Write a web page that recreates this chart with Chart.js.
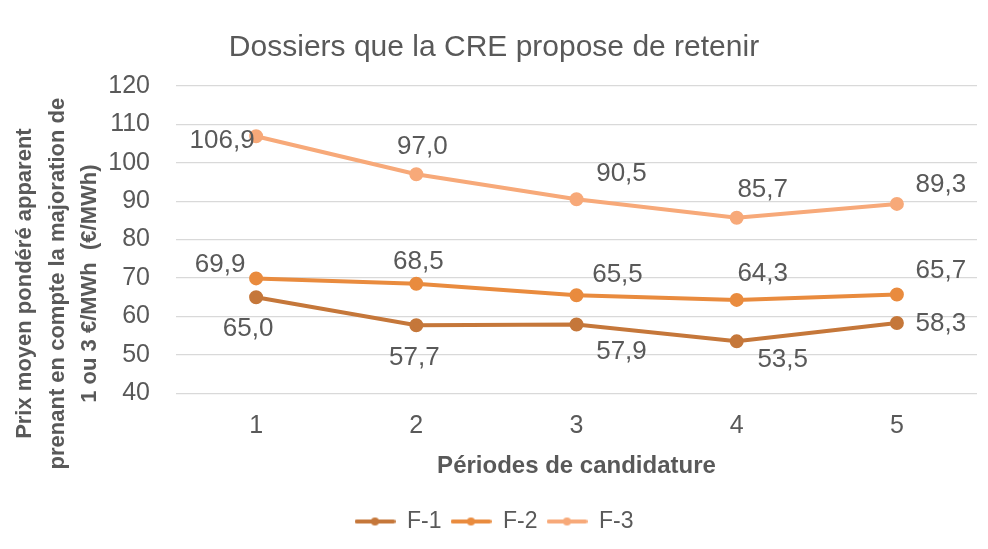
<!DOCTYPE html>
<html>
<head>
<meta charset="utf-8">
<script src="https://cdn.jsdelivr.net/npm/chart.js@4/dist/chart.umd.min.js"></script>
<style>
  html, body { margin: 0; padding: 0; background: #ffffff; }
  #wrap { width: 988px; height: 549px; position: relative; }
</style>
</head>
<body>
<div id="wrap"><canvas id="chart"></canvas></div>
<script>
// Data
const periods = ['1', '2', '3', '4', '5'];
const seriesNames = ['F-1', 'F-2', 'F-3'];
const f1Values = [65.0, 57.7, 57.9, 53.5, 58.3];
const f2Values = [69.9, 68.5, 65.5, 64.3, 65.7];
const f3Values = [106.9, 97.0, 90.5, 85.7, 89.3];
const yTicks = [40, 50, 60, 70, 80, 90, 100, 110, 120];
const yTitleLines = ['Prix moyen pondéré apparent', 'prenant en compte la majoration de', '1 ou 3 €/MWh  (€/MWh)'];

const textColor = '#595959';
const fontFamily = '"Liberation Sans", Arial, sans-serif';
const colors = ['#C5773A', '#E98B3E', '#F7A979'];

// where each data label sits relative to its point (dx, dy in px)
const labelOffsets = [
    [[-8, 32], [-2, 33], [45, 27], [46, 18], [44, 1]],
    [[-36, -14], [2, -22], [41, -20], [26, -26], [44, -24]],
    [[-34, 5], [6, -27], [45, -25], [26, -28], [44, -19]]
];

const fmt = v => v.toFixed(1).replace('.', ',');

// legend marker: short line with a dot in the middle
const legendMarker = color => {
    const c = document.createElement('canvas');
    c.width = 41;
    c.height = 12;
    const g = c.getContext('2d');
    g.strokeStyle = color;
    g.fillStyle = color;
    g.lineWidth = 4;
    g.lineCap = 'round';
    g.beginPath();
    g.moveTo(2, 6);
    g.lineTo(39, 6);
    g.stroke();
    g.beginPath();
    g.arc(20.5, 6, 4, 0, Math.PI * 2);
    g.fill();
    return c;
};

const dataLabels = {
    id: 'dataLabels',
    afterDatasetsDraw(chart) {
        const ctx = chart.ctx;
        ctx.save();
        ctx.font = '26px ' + fontFamily;
        ctx.fillStyle = textColor;
        ctx.textAlign = 'center';
        ctx.textBaseline = 'middle';
        chart.data.datasets.forEach((ds, di) => {
            chart.getDatasetMeta(di).data.forEach((pt, i) => {
                const off = labelOffsets[di][i];
                ctx.fillText(fmt(ds.data[i]), pt.x + off[0], pt.y + off[1]);
            });
        });
        ctx.restore();
    }
};

// three-line rotated y axis title, drawn by hand so it can sit lower than the axis middle
const yTitle = {
    id: 'yTitle',
    afterDraw(chart) {
        const ctx = chart.ctx;
        const cy = (chart.chartArea.top + chart.chartArea.bottom) / 2 + 44;
        const xs = [25, 58, 90];
        ctx.save();
        ctx.font = 'bold 22px ' + fontFamily;
        ctx.fillStyle = textColor;
        ctx.textAlign = 'center';
        ctx.textBaseline = 'middle';
        yTitleLines.forEach((line, i) => {
            ctx.save();
            ctx.translate(xs[i], cy);
            ctx.rotate(-Math.PI / 2);
            ctx.fillText(line, 0, 0);
            ctx.restore();
        });
        ctx.restore();
    }
};

const makeSet = (label, data, color) => ({
    label: label,
    data: data,
    borderColor: color,
    backgroundColor: color,
    borderWidth: 4,
    pointRadius: 5,
    pointHoverRadius: 5,
    tension: 0
});

new Chart(document.getElementById('chart'), {
    type: 'line',
    data: {
        labels: periods,
        datasets: [
            makeSet(seriesNames[0], f1Values, colors[0]),
            makeSet(seriesNames[1], f2Values, colors[1]),
            makeSet(seriesNames[2], f3Values, colors[2])
        ]
    },
    options: {
        responsive: true,
        maintainAspectRatio: false,
        animation: false,
        layout: { padding: { left: 11, right: 11, top: 10, bottom: 6 } },
        plugins: {
            title: {
                display: true,
                text: 'Dossiers que la CRE propose de retenir',
                color: textColor,
                font: { family: fontFamily, size: 30, weight: 'normal' },
                padding: { top: 20, bottom: 20 }
            },
            legend: {
                position: 'bottom',
                labels: {
                    color: textColor,
                    font: { family: fontFamily, size: 23 },
                    usePointStyle: true,
                    pointStyleWidth: 41,
                    boxHeight: 12,
                    padding: 9,
                    generateLabels(chart) {
                        return chart.data.datasets.map((ds, i) => ({
                            text: ds.label,
                            pointStyle: legendMarker(ds.borderColor),
                            fillStyle: ds.borderColor,
                            strokeStyle: ds.borderColor,
                            lineWidth: 0,
                            datasetIndex: i,
                            fontColor: textColor
                        }));
                    }
                }
            },
            tooltip: { enabled: false }
        },
        scales: {
            x: {
                offset: true,
                grid: { display: false, drawTicks: false },
                border: { display: false },
                ticks: { color: textColor, font: { family: fontFamily, size: 25 }, padding: 18 },
                title: {
                    display: true,
                    text: 'Périodes de candidature',
                    color: textColor,
                    font: { family: fontFamily, size: 24, weight: 'bold' },
                    padding: { top: -7, bottom: 20 }
                }
            },
            y: {
                min: yTicks[0],
                max: yTicks[yTicks.length - 1],
                afterBuildTicks(axis) { axis.ticks = yTicks.map(v => ({ value: v })); },
                afterFit(axis) { axis.width = 165; },
                grid: { color: '#d9d9d9', lineWidth: 1.3, drawTicks: false },
                border: { display: false },
                ticks: { color: textColor, font: { family: fontFamily, size: 25 }, padding: 26 }
            }
        }
    },
    plugins: [dataLabels, yTitle]
});
</script>
</body>
</html>
